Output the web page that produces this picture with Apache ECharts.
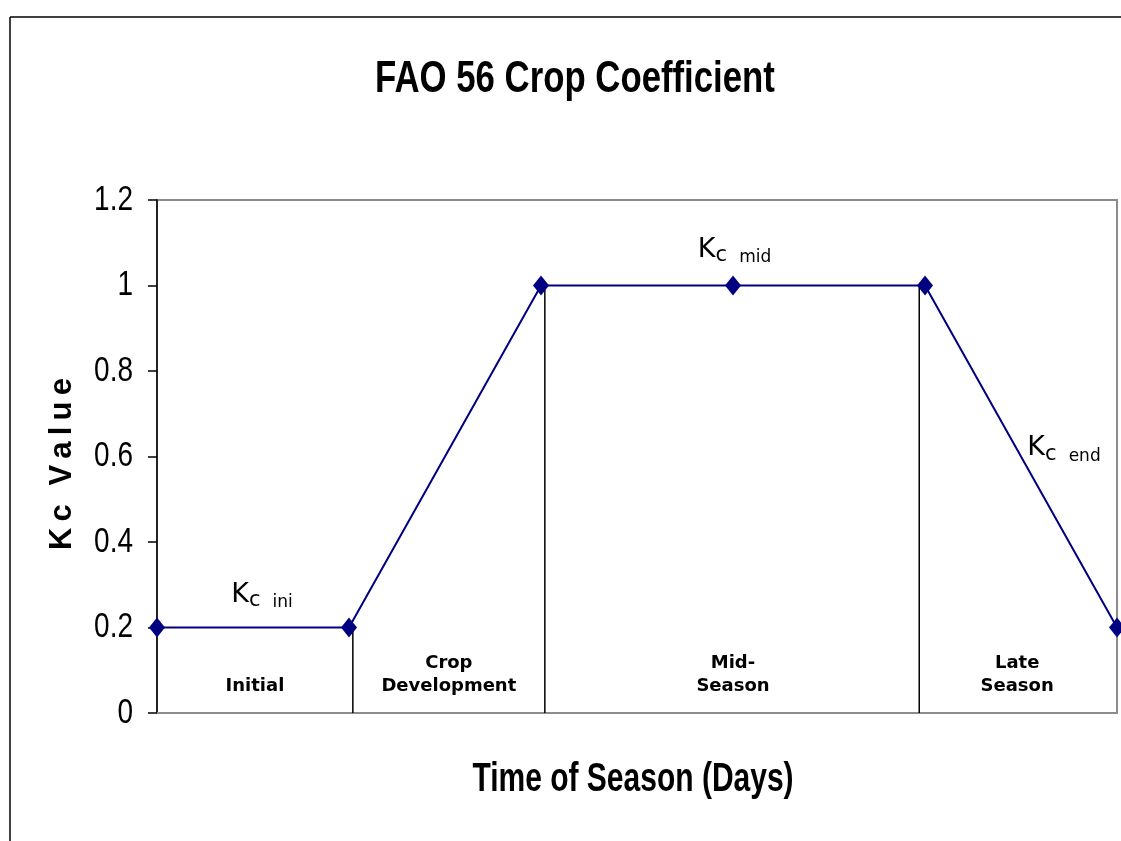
<!DOCTYPE html>
<html>
<head>
<meta charset="utf-8">
<script src="https://cdn.jsdelivr.net/npm/echarts@6/dist/echarts.min.js"></script>
<style>
  html, body { margin: 0; padding: 0; background: #fff; }
  #chart { width: 1121px; height: 841px; }
</style>
</head>
<body>
<div id="chart"></div>
<script>
// stage points along the season (x = stage boundary index)
var xValues = [0, 1, 2, 3, 4, 5];
var kcValues = [0.2, 0.2, 1, 1, 1, 0.2];

// vertical dividers between stages
var dividerX = [1.02, 2.02, 3.97];
var dividerTop = [0.2, 1, 1];

// stage names inside the plot
var stageNames = ['Initial', 'Crop\nDevelopment', 'Mid-\nSeason', 'Late\nSeason'];
var stageX = [0.51, 1.52, 3.0, 4.48];
var stageY = [0.063, 0.09, 0.09, 0.09];

// Kc annotations
var kcSubs = ['ini', 'mid', 'end'];
var kcLabelX = [0.547, 3.008, 4.724];
var kcLabelY = [0.276, 1.083, 0.618];

var yTicks = { min: 0, max: 1.2, interval: 0.2 };
var yTickLabels = ['0', '0.2', '0.4', '0.6', '0.8', '1', '1.2'];

var navy = '#000080';
var sans = '"Liberation Sans", Arial, sans-serif';
var verdana = '"DejaVu Sans", Verdana, sans-serif';

var lineData = [];
for (var i = 0; i < xValues.length; i++) {
    lineData.push([xValues[i], kcValues[i]]);
}

var series = [];
for (var d = 0; d < dividerX.length; d++) {
    series.push({
        type: 'line',
        data: [[dividerX[d], 0], [dividerX[d], dividerTop[d]]],
        symbol: 'none',
        lineStyle: { color: '#000', width: 1.5 },
        silent: true,
        z: 1
    });
}
series.push({
    type: 'line',
    data: lineData,
    symbol: 'diamond',
    symbolSize: [16, 20],
    itemStyle: { color: navy },
    lineStyle: { color: navy, width: 2 },
    z: 3
});

var stageData = [];
for (var s = 0; s < stageNames.length; s++) {
    stageData.push({ value: [stageX[s], stageY[s]], name: stageNames[s] });
}
series.push({
    type: 'scatter',
    data: stageData,
    symbolSize: 0,
    silent: true,
    itemStyle: { opacity: 1 },
    label: {
        show: true,
        position: 'inside',
        formatter: function (p) { return p.name; },
        fontFamily: verdana,
        fontWeight: 'bold',
        fontSize: 18,
        lineHeight: 23,
        align: 'center',
        color: '#000'
    }
});

var kcData = [];
for (var k = 0; k < kcSubs.length; k++) {
    kcData.push({ value: [kcLabelX[k], kcLabelY[k]], name: kcSubs[k] });
}
series.push({
    type: 'scatter',
    data: kcData,
    symbolSize: 0,
    silent: true,
    itemStyle: { opacity: 1 },
    label: {
        show: true,
        position: 'inside',
        formatter: function (p) { return '{k|K}{c|c }{s| ' + p.name + '}'; },
        rich: {
            k: { fontFamily: verdana, fontSize: 27, color: '#000', lineHeight: 32, verticalAlign: 'bottom', padding: [0, 0, 3, 0] },
            c: { fontFamily: verdana, fontSize: 21, color: '#000', lineHeight: 32, verticalAlign: 'bottom' },
            s: { fontFamily: verdana, fontSize: 17, color: '#000', lineHeight: 32, verticalAlign: 'bottom' }
        }
    }
});

var chart = echarts.init(document.getElementById('chart'));
chart.setOption({
    animation: false,
    backgroundColor: '#fff',
    grid: {
        left: 157, right: 4, top: 200, bottom: 128,
        show: true, borderColor: '#8c8c8c', borderWidth: 2, backgroundColor: 'transparent'
    },
    xAxis: {
        type: 'value', min: 0, max: 5,
        axisLine: { show: true, lineStyle: { color: '#8c8c8c', width: 2 } },
        axisTick: { show: false },
        axisLabel: { show: false },
        splitLine: { show: false }
    },
    yAxis: {
        type: 'value', min: yTicks.min, max: yTicks.max, interval: yTicks.interval,
        axisLine: { show: true, lineStyle: { color: '#000', width: 1.5 } },
        axisTick: { show: true, inside: false, length: 9, lineStyle: { color: '#000', width: 1.5 } },
        axisLabel: { show: false },
        splitLine: { show: false }
    },
    series: series
});

// texts in a narrow face: Liberation Sans squeezed horizontally
var graphics = [
    { type: 'line', shape: { x1: 10, y1: 17, x2: 1121, y2: 17 }, style: { stroke: '#000', lineWidth: 1.5 } },
    { type: 'line', shape: { x1: 10, y1: 17, x2: 10, y2: 841 }, style: { stroke: '#000', lineWidth: 1.5 } },
    {
        type: 'text', x: 575, y: 80, scaleX: 0.79,
        style: { text: 'FAO 56 Crop Coefficient', fontFamily: sans, fontWeight: 'bold', fontSize: 44, fill: '#000', align: 'center', verticalAlign: 'middle' }
    },
    {
        type: 'text', x: 633, y: 780, scaleX: 0.75,
        style: { text: 'Time of Season (Days)', fontFamily: sans, fontWeight: 'bold', fontSize: 40, fill: '#000', align: 'center', verticalAlign: 'middle' }
    },
    {
        type: 'text', x: 62, y: 464, rotation: Math.PI / 2,
        style: { text: 'K\u2009c\u2009\u2009\u2009V\u2009a\u2009l\u2009u\u2009e', fontFamily: sans, fontWeight: 'bold', fontSize: 31, fill: '#000', align: 'center', verticalAlign: 'middle' }
    }
];
for (var t = 0; t < yTickLabels.length; t++) {
    var py = chart.convertToPixel({ yAxisIndex: 0 }, yTicks.min + t * yTicks.interval);
    graphics.push({
        type: 'text', x: 133, y: py, scaleX: 0.8,
        style: { text: yTickLabels[t], fontFamily: sans, fontSize: 35, fill: '#000', align: 'right', verticalAlign: 'middle' }
    });
}
chart.setOption({ graphic: graphics });
</script>
</body>
</html>
